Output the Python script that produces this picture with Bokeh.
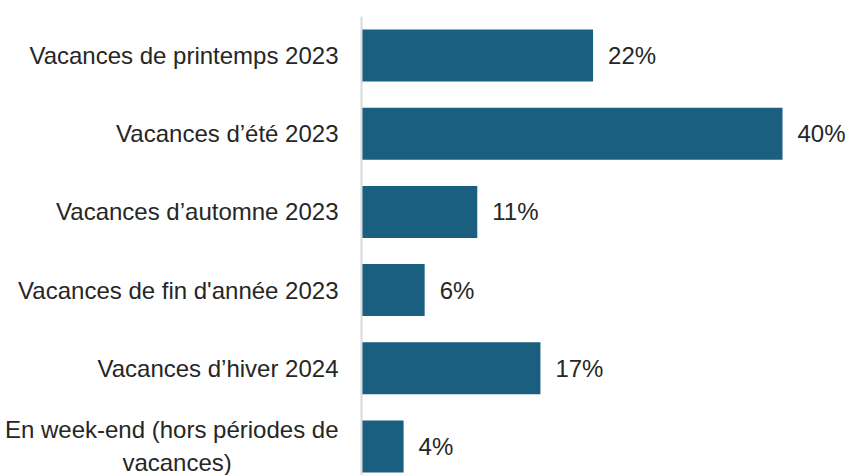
from bokeh.plotting import figure
from bokeh.models import ColumnDataSource, Range1d, FixedTicker
from bokeh.core.properties import value
from bokeh.embed import file_html
from bokeh.resources import INLINE

categories = [
    "Vacances de printemps 2023",
    "Vacances d\u2019été 2023",
    "Vacances d\u2019automne 2023",
    "Vacances de fin d'année 2023",
    "Vacances d\u2019hiver 2024",
    "En week-end (hors périodes de\nvacances)" + "\u00a0" * 16,
]
values = [22, 40, 11, 6, 17, 4]
value_labels = ["22%", "40%", "11%", "6%", "17%", "4%"]

positions = list(range(len(categories)))
FONT = "Liberation Sans"
BAR = "#1A5E80"
TXT = "#262626"

src = ColumnDataSource(dict(y=positions, v=values, lab=value_labels))

p = figure(width=848, height=475, output_backend="svg", toolbar_location=None,
           x_range=Range1d(0, 46.27), y_range=Range1d(5.371, -0.703),
           min_border_left=361, min_border_right=0, min_border_top=0, min_border_bottom=0)
p.outline_line_color = None
p.grid.visible = False
p.xaxis.visible = False

p.hbar(y="y", left=0, right="v", height=0.665, source=src, color=BAR, line_color=None)
p.text(x="v", y="y", text="lab", source=src, x_offset=15, text_align="left",
       text_baseline="middle", text_font=value(FONT), text_font_size="24px", text_color=TXT)

ax = p.yaxis[0]
ax.ticker = FixedTicker(ticks=positions)
ax.major_label_overrides = {i: c for i, c in zip(positions, categories)}
ax.major_tick_line_color = None
ax.minor_tick_line_color = None
ax.major_tick_out = 0
ax.major_tick_in = 0
ax.minor_tick_out = 0
ax.minor_tick_in = 0
ax.axis_line_color = "#D9D9D9"
ax.axis_line_width = 2
ax.bounds = (-0.5, 5.5)
ax.major_label_standoff = 23
ax.major_label_text_font = FONT
ax.major_label_text_font_size = "24px"
ax.major_label_text_color = TXT

open("out.html", "w").write(file_html(p, INLINE))
